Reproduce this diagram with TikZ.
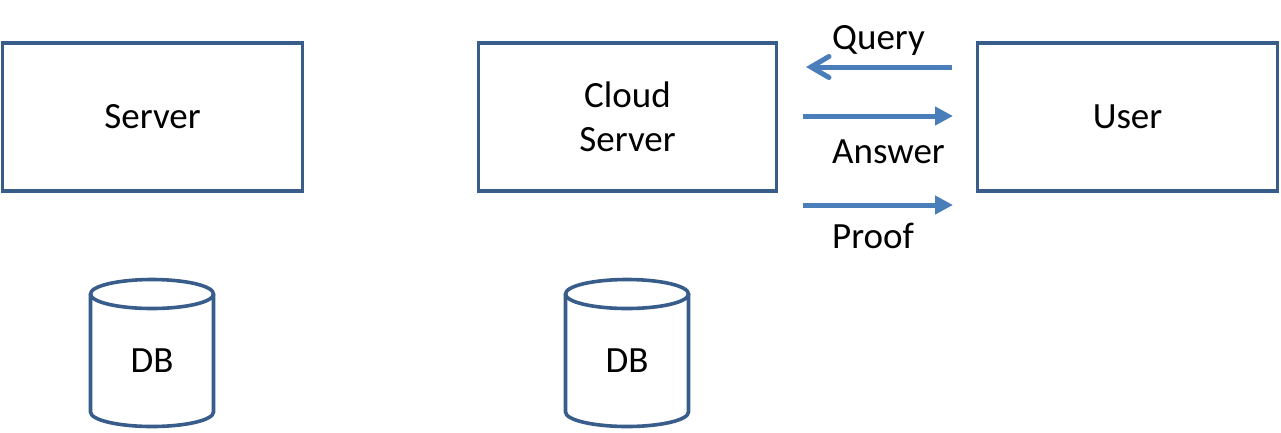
\documentclass[tikz,border=0pt]{standalone}
\usepackage{fontspec}
\setmainfont{Carlito}
\usetikzlibrary{arrows.meta}
\definecolor{boxc}{HTML}{385D8A}
\definecolor{arrc}{HTML}{4A7EBB}
\begin{document}
\begin{tikzpicture}[x=1pt,y=1pt,
  every node/.style={font=\fontsize{37}{44}\selectfont, inner sep=0pt},
  boxnode/.style={draw=boxc, line width=3.6pt, minimum height=148pt, align=center},
  cyl/.style={draw=boxc, line width=3.6pt},
  flow/.style={draw=arrc, line width=5pt},
  lbl/.style={anchor=base west}]
\useasboundingbox[fill=white] (0,0) rectangle (1281,-432);
% boxes
\node[boxnode, minimum width=300pt] (server) at (152.5,-117) {Server};
\node[boxnode, minimum width=298pt] (cloud) at (627.5,-117) {Cloud\\Server};
\node[boxnode, minimum width=300pt] (user) at (1127.5,-117) {User};
% cylinders
\draw[cyl] (90.5,-294) -- (90.5,-412) arc (180:360:61.5pt and 14.5pt) -- (213.5,-294);
\draw[cyl] (152,-294) ellipse (61.5pt and 14.5pt);
\node (db1) at (152,-361) {DB};
\draw[cyl] (565.5,-294) -- (565.5,-412) arc (180:360:61.5pt and 14.5pt) -- (688.5,-294);
\draw[cyl] (627,-294) ellipse (61.5pt and 14.5pt);
\node (db2) at (627,-361) {DB};
% arrows
\coordinate (qs) at (952,-67);
\coordinate (qe) at (806,-67);
\coordinate (as) at (803,-116);
\coordinate (ae) at (953,-116);
\coordinate (ps) at (803,-205);
\coordinate (pe) at (953,-205);
\draw[flow, -{Straight Barb[length=18pt,width=21pt,line cap=round]}] (qs) -- (qe);
\draw[flow, -{Triangle[length=18pt,width=18pt]}] (as) -- (ae);
\draw[flow, -{Triangle[length=18pt,width=18pt]}] (ps) -- (pe);
\node[lbl] (query) at (832,-49) {Query};
\node[lbl] (answer) at (832,-163) {Answer};
\node[lbl] (proof) at (832,-248) {Proof};
\end{tikzpicture}
\end{document}
